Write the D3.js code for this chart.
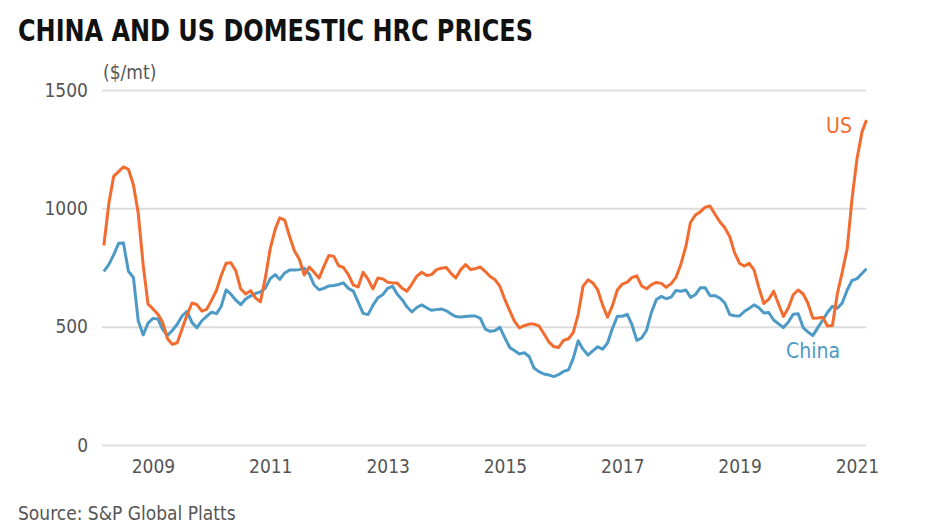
<!DOCTYPE html>
<html>
<head>
<meta charset="utf-8">
<script src="https://cdn.jsdelivr.net/npm/d3@7"></script>
<style>
  html, body { margin: 0; padding: 0; background: #fff; }
  svg { display: block; }
</style>
</head>
<body>
<div id="chart"></div>
<script>
// ─── Data (monthly, Mar 2008 – Mar 2021, $/mt) ───
const startMonth = new Date(2008, 2, 1);
const usPrices = [
  843, 1020, 1135, 1155, 1175, 1165, 1100, 980, 760, 595,
  575, 552, 520, 450, 425, 432, 490, 550, 600, 593,
  566, 573, 612, 655, 715, 768, 770, 735, 660, 638,
  652, 622, 605, 705, 830, 912, 960, 950, 882, 820,
  785, 718, 752, 730, 705, 755, 801, 797, 758, 750,
  720, 676, 668, 730, 700, 660, 706, 702, 688, 685,
  684, 662, 650, 680, 713, 730, 716, 720, 741, 747,
  750, 724, 706, 741, 762, 742, 745, 752, 733, 712,
  698, 670, 614, 566, 523, 495, 504, 511, 511, 503,
  470, 436, 416, 412, 442, 449, 475, 551, 670, 698,
  685, 655, 590, 540, 590, 655, 680, 688, 707, 715,
  672, 660, 678, 687, 683, 666, 682, 708, 765, 840,
  940, 972, 985, 1005, 1010, 975, 942, 918, 880, 812,
  767, 756, 768, 740, 665, 598, 615, 650, 595, 543,
  580, 635, 655, 638, 600, 536, 537, 540, 503, 505,
  640, 730, 830, 1040, 1210, 1322, 1373
];
const chinaPrices = [
  734, 762, 803, 852, 854, 734, 708, 525, 465, 515,
  535, 532, 490, 463, 484, 510, 545, 565, 517, 495,
  525, 543, 561, 555, 585, 655, 637, 612, 593, 617,
  630, 640, 647, 662, 703, 720, 700, 727, 739, 739,
  741, 747, 723, 676, 656, 662, 672, 674, 678, 685,
  662, 650, 605, 556, 551, 590, 622, 635, 662, 671,
  638, 614, 584, 562, 581, 592, 580, 569, 572, 575,
  567, 553, 543, 541, 543, 545, 545, 535, 490, 480,
  484, 497, 452, 411, 399, 385, 390, 374, 325, 310,
  300, 296, 289, 297, 311, 318, 365, 440, 405, 380,
  398, 415, 405, 431, 494, 544, 544, 552, 510, 442,
  452, 485, 560, 615, 628, 618, 625, 653, 650, 655,
  624, 635, 664, 664, 631, 631, 620, 600, 551, 546,
  545, 565, 577, 592, 580, 558, 560, 528, 512, 496,
  520, 553, 555, 496, 478, 462, 495, 527, 560, 586,
  578, 600, 655, 695, 703, 725, 745
];
const yTicks = [0, 500, 1000, 1500];
const xTickYears = [2009, 2011, 2013, 2015, 2017, 2019, 2021];

const W = 936, H = 532;
const fontFam = "'Liberation Sans Narrow', 'DejaVu Sans Condensed', 'Roboto', sans-serif";
const colors = { us: "#F26B2F", china: "#4C9AC5" };

const svg = d3.select("#chart").append("svg")
  .attr("width", W).attr("height", H)
  .style("font-family", fontFam);

// ── Title ──
svg.append("text")
  .attr("x", 18).attr("y", 41)
  .attr("textLength", 515).attr("lengthAdjust", "spacingAndGlyphs")
  .style("font-size", "31px").style("font-weight", "700").style("fill", "#111")
  .text("CHINA AND US DOMESTIC HRC PRICES");

// ── Scales ──
const x = d3.scaleTime()
  .domain([new Date(2009, 0, 1), new Date(2021, 0, 1)])
  .range([153, 857]);
const y = d3.scaleLinear().domain([0, 1500]).range([445, 90]);
const gridLeft = 102, gridRight = 866;

const toDate = (i) => new Date(startMonth.getFullYear(), startMonth.getMonth() + i, 1);
const usData = usPrices.map((v, i) => ({ date: toDate(i), value: v }));
const chinaData = chinaPrices.map((v, i) => ({ date: toDate(i), value: v }));

// ── Y axis + gridlines ──
const gY = svg.append("g")
  .attr("transform", `translate(${gridLeft},0)`)
  .call(d3.axisLeft(y).tickValues(yTicks).tickFormat(d3.format("d"))
    .tickSize(-(gridRight - gridLeft)).tickPadding(14))
  .call((g) => g.select(".domain").remove());
gY.selectAll(".tick line").attr("stroke", "#dddddd").attr("stroke-width", 2);
gY.selectAll(".tick text")
  .style("font-family", fontFam).style("font-size", "19px").style("fill", "#555");

svg.append("text")
  .attr("x", 103).attr("y", 79)
  .style("font-size", "19px").style("fill", "#555")
  .text("($/mt)");

// ── X axis ──
const gX = svg.append("g")
  .attr("transform", "translate(0,452)")
  .call(d3.axisBottom(x).tickValues(xTickYears.map((yr) => new Date(yr, 0, 1)))
    .tickFormat(d3.timeFormat("%Y")).tickSize(0).tickPadding(8))
  .call((g) => g.select(".domain").remove());
gX.selectAll(".tick text")
  .style("font-family", fontFam).style("font-size", "19px").style("fill", "#555");

// ── Lines ──
const line = d3.line().x((d) => x(d.date)).y((d) => y(d.value));
svg.append("path").datum(chinaData)
  .attr("fill", "none").attr("stroke", colors.china).attr("stroke-width", 3)
  .attr("stroke-linejoin", "round").attr("d", line);
svg.append("path").datum(usData)
  .attr("fill", "none").attr("stroke", colors.us).attr("stroke-width", 3)
  .attr("stroke-linejoin", "round").attr("d", line);

// ── Series labels ──
svg.append("text")
  .attr("x", 839).attr("y", 133).attr("text-anchor", "middle")
  .style("font-size", "21px").style("fill", colors.us)
  .text("US");
svg.append("text")
  .attr("x", 813).attr("y", 358).attr("text-anchor", "middle")
  .style("font-size", "21px").style("fill", colors.china)
  .text("China");

// ── Source ──
svg.append("text")
  .attr("x", 18).attr("y", 520)
  .style("font-size", "19px").style("fill", "#555")
  .text("Source: S&P Global Platts");
</script>
</body>
</html>
